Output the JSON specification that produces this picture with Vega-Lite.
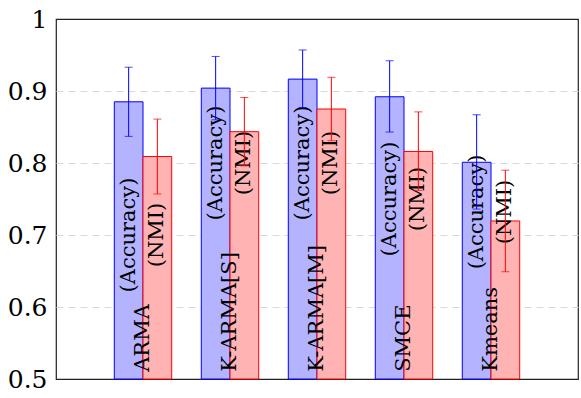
{
  "$schema": "https://vega.github.io/schema/vega-lite/v6.json",
  "width": 522,
  "height": 360,
  "autosize": {"type": "none"},
  "padding": {"left": 56, "top": 19, "right": 3, "bottom": 19},
  "background": "white",
  "config": {
    "view": {"stroke": "#222222", "strokeWidth": 1.2},
    "font": "DejaVu Serif"
  },
  "data": {
    "values": [
      {"method": "ARMA", "metric": "Accuracy", "value": 0.885, "lo": 0.837, "hi": 0.933, "labelAt": 0.70},
      {"method": "ARMA", "metric": "NMI", "value": 0.809, "lo": 0.757, "hi": 0.861, "labelAt": 0.70},
      {"method": "K-ARMA[S]", "metric": "Accuracy", "value": 0.904, "lo": 0.860, "hi": 0.948, "labelAt": 0.80},
      {"method": "K-ARMA[S]", "metric": "NMI", "value": 0.8435, "lo": 0.796, "hi": 0.891, "labelAt": 0.80},
      {"method": "K-ARMA[M]", "metric": "Accuracy", "value": 0.9165, "lo": 0.877, "hi": 0.957, "labelAt": 0.80},
      {"method": "K-ARMA[M]", "metric": "NMI", "value": 0.875, "lo": 0.831, "hi": 0.919, "labelAt": 0.80},
      {"method": "SMCE", "metric": "Accuracy", "value": 0.892, "lo": 0.843, "hi": 0.942, "labelAt": 0.75},
      {"method": "SMCE", "metric": "NMI", "value": 0.816, "lo": 0.762, "hi": 0.871, "labelAt": 0.75},
      {"method": "Kmeans", "metric": "Accuracy", "value": 0.801, "lo": 0.736, "hi": 0.867, "labelAt": 0.732},
      {"method": "Kmeans", "metric": "NMI", "value": 0.7195, "lo": 0.649, "hi": 0.790, "labelAt": 0.732}
    ]
  },
  "transform": [{"calculate": "'(' + datum.metric + ')'", "as": "metricLabel"}],
  "encoding": {
    "x": {
      "field": "method",
      "type": "nominal",
      "sort": null,
      "scale": {"paddingInner": 0.34, "paddingOuter": 0.67},
      "axis": null
    }
  },
  "layer": [
    {
      "mark": {"type": "bar", "strokeWidth": 1},
      "encoding": {
        "xOffset": {"field": "metric", "type": "nominal", "scale": {"domain": ["Accuracy", "NMI"], "paddingInner": 0, "paddingOuter": 0}},
        "y": {
          "field": "value",
          "type": "quantitative",
          "scale": {"domain": [0.5, 1], "nice": false, "zero": false},
          "axis": {
            "values": [0.5, 0.6, 0.7, 0.8, 0.9, 1],
            "format": "~g",
            "title": null,
            "domain": false,
            "ticks": false,
            "labelPadding": 9,
            "labelFontSize": 25,
            "labelColor": "#000000",
            "labelFont": "DejaVu Serif",
            "gridColor": {"condition": {"test": "datum.value == 0.5 || datum.value == 1", "value": "transparent"}, "value": "#d9d9d9"},
            "gridDash": [7, 5],
            "gridWidth": 1.2
          }
        },
        "y2": {"datum": 0.5},
        "fill": {"field": "metric", "type": "nominal", "scale": {"domain": ["Accuracy", "NMI"], "range": ["#b3b3ff", "#ffb3b3"]}, "legend": null},
        "stroke": {"field": "metric", "type": "nominal", "scale": {"domain": ["Accuracy", "NMI"], "range": ["#0000ff", "#ff0000"]}, "legend": null}
      }
    },
    {
      "mark": {"type": "text", "angle": 270, "align": "center", "baseline": "middle", "fontSize": 21, "color": "#000000", "font": "DejaVu Serif"},
      "encoding": {
        "xOffset": {"field": "metric", "type": "nominal", "scale": {"domain": ["Accuracy", "NMI"], "paddingInner": 0, "paddingOuter": 0}},
        "y": {"field": "labelAt", "type": "quantitative"},
        "text": {"field": "metricLabel"}
      }
    },
    {
      "transform": [{"filter": "datum.metric === 'Accuracy'"}],
      "mark": {"type": "text", "angle": 270, "align": "left", "baseline": "middle", "fontSize": 21, "color": "#000000", "font": "DejaVu Serif"},
      "encoding": {
        "y": {"datum": 0.51},
        "text": {"field": "method"}
      }
    },
    {
      "mark": {"type": "rule", "strokeWidth": 1},
      "encoding": {
        "xOffset": {"field": "metric", "type": "nominal", "scale": {"domain": ["Accuracy", "NMI"], "paddingInner": 0, "paddingOuter": 0}},
        "y": {"field": "lo", "type": "quantitative"},
        "y2": {"field": "hi"},
        "stroke": {"field": "metric", "type": "nominal", "legend": null}
      }
    },
    {
      "mark": {"type": "tick", "size": 8, "thickness": 1},
      "encoding": {
        "xOffset": {"field": "metric", "type": "nominal", "scale": {"domain": ["Accuracy", "NMI"], "paddingInner": 0, "paddingOuter": 0}},
        "y": {"field": "lo", "type": "quantitative"},
        "color": {"field": "metric", "type": "nominal", "scale": {"domain": ["Accuracy", "NMI"], "range": ["#0000ff", "#ff0000"]}, "legend": null}
      }
    },
    {
      "mark": {"type": "tick", "size": 8, "thickness": 1},
      "encoding": {
        "xOffset": {"field": "metric", "type": "nominal", "scale": {"domain": ["Accuracy", "NMI"], "paddingInner": 0, "paddingOuter": 0}},
        "y": {"field": "hi", "type": "quantitative"},
        "color": {"field": "metric", "type": "nominal", "scale": {"domain": ["Accuracy", "NMI"], "range": ["#0000ff", "#ff0000"]}, "legend": null}
      }
    }
  ]
}
